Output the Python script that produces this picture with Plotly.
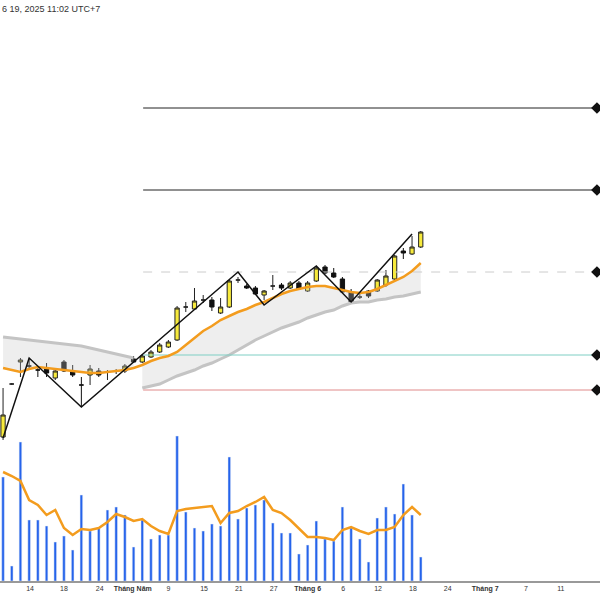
import plotly.graph_objects as go

# price values as (600 - pixel_y) / 10
def p(y):
    return round((600 - y) / 10, 2)

# open, high, low, close in picture pixels (top = smaller)
candles_px = [
    (437, 388, 440, 415), (384, 383, 385, 384), (362, 358, 377, 360), (366, 358, 370, 366),
    (370, 367, 377, 370), (368, 363, 377, 373), (378, 369, 380, 371), (362, 360, 372, 371),
    (371, 365, 377, 375), (385, 377, 407, 385), (375, 365, 385, 369), (371, 368, 377, 375),
    (372, 370, 380, 372), (371, 369, 374, 371), (371, 364, 373, 366), (359, 356, 363, 362),
    (362, 354, 363, 356), (357, 350, 358, 352), (352, 343, 353, 345), (347, 340, 348, 342),
    (340, 306, 341, 308), (307, 302, 312, 307), (309, 288, 310, 301), (300, 295, 303, 300),
    (300, 297, 311, 307), (313, 298, 314, 307), (307, 280, 308, 281), (280, 277, 283, 280),
    (286, 284, 289, 288), (288, 286, 295, 294), (295, 290, 300, 291), (286, 275, 290, 286),
    (285, 283, 290, 288), (288, 281, 289, 283), (283, 281, 290, 289), (291, 281, 292, 283),
    (281, 266, 282, 268), (267, 265, 274, 273), (273, 268, 278, 277), (279, 277, 293, 292),
    (292, 289, 303, 302), (297, 294, 299, 297), (291, 290, 298, 296), (291, 279, 292, 280),
    (285, 270, 287, 276), (279, 255, 280, 256), (251, 248, 259, 253), (254, 236, 255, 247),
    (247, 231, 248, 232),
]
opens = [p(c[0]) for c in candles_px]
highs = [p(c[1]) for c in candles_px]
lows = [p(c[2]) for c in candles_px]
closes = [p(c[3]) for c in candles_px]

ma_px = [368, 370, 372, 369, 367, 368, 369, 370, 371, 372, 373, 373, 372, 371, 370, 368,
         365, 361, 358, 356, 352, 345, 338, 331, 326, 320, 316, 312, 309, 305, 302, 298,
         294, 291, 289, 287, 286, 286, 288, 290, 292, 293, 292, 289, 285, 281, 277, 271, 263]
ma = [p(v) for v in ma_px]

# cloud: upper gray edge on the left, lower gray edge on the right
upper_left_px = [337, 338, 339, 340, 341, 342, 343, 344, 345, 346, 348, 350, 352, 354, 356, 358]
lower_right_px = [388, 386, 384, 380, 376, 373, 370, 366, 363, 359, 355, 350, 345, 340, 336, 332,
                  328, 325, 322, 318, 315, 312, 310, 306, 303, 302, 302, 300, 299, 297, 296, 294, 292]
upper_left = [p(v) for v in upper_left_px]
lower_right = [p(v) for v in lower_right_px]

zigzag_x = [0, 3, 9, 27, 30, 36, 40, 47]
zigzag_px = [438, 358, 407, 272, 305, 266, 302, 234]
zigzag_y = [p(v) for v in zigzag_px]

levels_px = [108, 190, 272, 355, 390]
level_colors = ["#222222", "#222222", "#cccccc", "#7fcfc4", "#e08a8a"]
level_dash = ["solid", "solid", "dash", "solid", "solid"]

volume = [104, 15, 139, 61, 61, 55, 39, 45, 31, 86, 50, 53, 71, 74, 66, 34, 61, 42, 46, 46,
          145, 69, 53, 50, 57, 55, 124, 62, 73, 76, 81, 58, 48, 48, 27, 36, 60, 42, 40, 74,
          53, 42, 19, 63, 74, 67, 97, 66, 24]
volume_ma = [109, 105, 100, 81, 76, 66, 71, 53, 46, 52, 51, 53, 59, 67, 64, 60, 62, 55, 50, 47,
             70, 72, 73, 74, 75, 58, 68, 70, 75, 79, 84, 71, 68, 61, 53, 44, 44, 43, 41, 51,
             54, 50, 47, 51, 51, 54, 66, 74, 66]

tick_idx = [3.1, 7, 11.1, 14.9, 19, 23.1, 27.1, 31.1, 35, 39.1, 43.1, 47.1, 51.1, 55.4, 60.1, 64.1, 68.2]
tick_text = ["14", "18", "24", "<b>Tháng Năm</b>", "9", "15", "21", "27", "<b>Tháng 6</b>",
             "6", "12", "18", "24", "<b>Tháng 7</b>", "7", "11", "17"]

idx = list(range(len(opens)))
x_end = 68.6

fig = go.Figure()

# cloud fill
fig.add_scatter(x=idx[:16], y=ma[:16], mode="lines", line=dict(width=0), hoverinfo="skip", showlegend=False)
fig.add_scatter(x=idx[:16], y=upper_left, mode="lines", fill="tonexty", fillcolor="rgba(200,200,200,0.3)",
                line=dict(color="#c4c4c4", width=3), hoverinfo="skip", showlegend=False)
fig.add_scatter(x=idx[16:], y=lower_right, mode="lines", line=dict(color="#c4c4c4", width=3),
                hoverinfo="skip", showlegend=False)
fig.add_scatter(x=idx[16:], y=ma[16:], mode="lines", line=dict(width=0), fill="tonexty",
                fillcolor="rgba(200,200,200,0.3)", hoverinfo="skip", showlegend=False)

for lv, col, dsh in zip(levels_px, level_colors, level_dash):
    fig.add_scatter(x=[16.1, x_end - 0.35], y=[p(lv), p(lv)], mode="lines",
                    line=dict(color=col, width=1, dash=dsh), showlegend=False, hoverinfo="skip")
fig.add_scatter(x=[x_end - 0.35] * len(levels_px), y=[p(v) for v in levels_px], mode="markers",
                marker=dict(symbol="diamond", size=9, color="#111111"), cliponaxis=False, showlegend=False)

fig.add_scatter(x=idx, y=ma, mode="lines", line=dict(color="#f39c1e", width=2.5), showlegend=False)

fig.add_candlestick(
    x=idx, open=opens, high=highs, low=lows, close=closes,
    increasing=dict(fillcolor="#f7ea3c", line=dict(color="#222222", width=1)),
    decreasing=dict(fillcolor="#111111", line=dict(color="#111111", width=1)),
    whiskerwidth=0, showlegend=False,
)

fig.add_scatter(x=zigzag_x, y=zigzag_y, mode="lines", line=dict(color="#111111", width=1.5), showlegend=False)

fig.add_bar(x=idx, y=volume, marker_color="#2563eb", width=0.3, yaxis="y2", showlegend=False)
fig.add_scatter(x=idx, y=volume_ma, mode="lines", line=dict(color="#f39c1e", width=2.5),
                yaxis="y2", showlegend=False)

fig.update_layout(
    width=600, height=600,
    margin=dict(l=0, r=0, t=0, b=19),
    paper_bgcolor="white", plot_bgcolor="white",
    xaxis=dict(range=[-0.35, x_end], rangeslider=dict(visible=False),
               tickvals=tick_idx, ticktext=tick_text, showgrid=False, zeroline=False,
               showline=True, linecolor="#999999", linewidth=2, ticks="",
               tickfont=dict(family="Liberation Sans", size=7, color="#333333")),
    yaxis=dict(range=[1.9, 60], visible=False),
    yaxis2=dict(overlaying="y", range=[0, 581], visible=False),
    annotations=[dict(x=0, y=1, xref="paper", yref="paper", xanchor="left", yanchor="top",
                      text="6 19, 2025 11:02 UTC+7", showarrow=False,
                      font=dict(family="Liberation Sans", size=9, color="#333333"), yshift=-2)],
)

fig.write_html("out.html", config={"displayModeBar": False},
               post_script="document.body.style.margin='0';")
